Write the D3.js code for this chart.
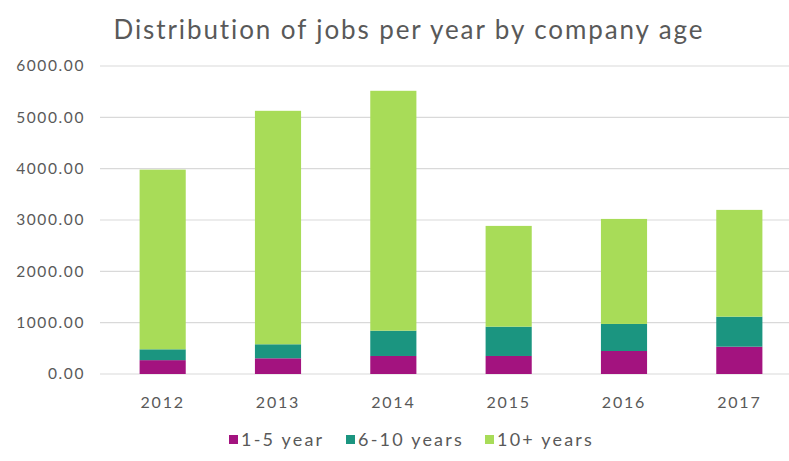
<!DOCTYPE html>
<html>
<head>
<meta charset="utf-8">
<script src="https://cdn.jsdelivr.net/npm/d3@7"></script>
<style>
  html, body { margin: 0; padding: 0; background: #ffffff; }
  svg { display: block; }
  text { font-family: "Lato", "Open Sans", sans-serif; fill: #595959; }
</style>
</head>
<body>
<svg id="chart" width="789" height="461"></svg>
<script>
// Jobs per year, split by company age
const years = ["2012", "2013", "2014", "2015", "2016", "2017"];
const young = [270, 306, 351, 351, 448, 532];        // 1-5 year
const middle = [211, 273, 493, 571, 527, 585];       // 6-10 years
const old = [3500, 4548, 4673, 1963, 2046, 2080];    // 10+ years
const seriesNames = ["1-5 year", "6-10 years", "10+ years"];
const seriesColors = ["#a3137f", "#1b9580", "#a8dc58"];
const yTicks = [0, 1000, 2000, 3000, 4000, 5000, 6000];

const svg = d3.select("#chart");
const W = 789, H = 461;

const rows = years.map((y, i) => ({ year: y, s0: young[i], s1: middle[i], s2: old[i] }));
const stacked = d3.stack().keys(["s0", "s1", "s2"])(rows);

const x = d3.scaleBand().domain(years).range([105, 797]).paddingInner(0.6).paddingOuter(0.3);
const y = d3.scaleLinear().domain([0, 6000]).range([374, 66]);

// Horizontal gridlines
svg.append("g").selectAll("line").data(yTicks).join("line")
  .attr("x1", 100).attr("x2", W)
  .attr("y1", d => y(d)).attr("y2", d => y(d))
  .attr("stroke", "#d9d9d9").attr("stroke-width", 1.2);

// Y axis labels
const yAxis = d3.axisLeft(y).tickValues(yTicks).tickFormat(d3.format(".2f")).tickSize(0).tickPadding(0);
const gy = svg.append("g").attr("transform", "translate(85,0)").call(yAxis);
gy.select(".domain").remove();
gy.selectAll("text").attr("font-size", 15.5).attr("font-family", "Lato, sans-serif")
  .attr("fill", "#6a6a6a").attr("letter-spacing", 1.6);

// Stacked bars
svg.append("g").selectAll("g").data(stacked).join("g")
  .attr("fill", (d, i) => seriesColors[i])
  .selectAll("rect").data(d => d).join("rect")
  .attr("x", d => x(d.data.year))
  .attr("width", x.bandwidth())
  .attr("y", d => y(d[1]))
  .attr("height", d => y(d[0]) - y(d[1]));

// X axis labels
const xAxis = d3.axisBottom(x).tickSize(0).tickPadding(0);
const gx = svg.append("g").attr("transform", "translate(0,397)").call(xAxis);
gx.select(".domain").remove();
gx.selectAll("text").attr("font-size", 16).attr("font-family", "Lato, sans-serif")
  .attr("fill", "#595959").attr("dy", "0.71em").attr("letter-spacing", 1.8);

// Title
svg.append("text")
  .attr("x", 409).attr("y", 39)
  .attr("text-anchor", "middle")
  .attr("font-size", 26)
  .attr("letter-spacing", 1.9)
  .attr("fill", "#5a5a5a")
  .text("Distribution of jobs per year by company age");

// Legend
const legendX = [229, 346, 485];
const lg = svg.append("g").selectAll("g").data(seriesNames).join("g")
  .attr("transform", (d, i) => `translate(${legendX[i]},440)`);
lg.append("rect").attr("x", 0).attr("y", -5).attr("width", 9).attr("height", 9)
  .attr("fill", (d, i) => seriesColors[i]);
lg.append("text").attr("x", 12).attr("y", 0).attr("dy", "0.35em")
  .attr("font-size", 18).attr("letter-spacing", 2.2).text(d => d);
</script>
</body>
</html>
